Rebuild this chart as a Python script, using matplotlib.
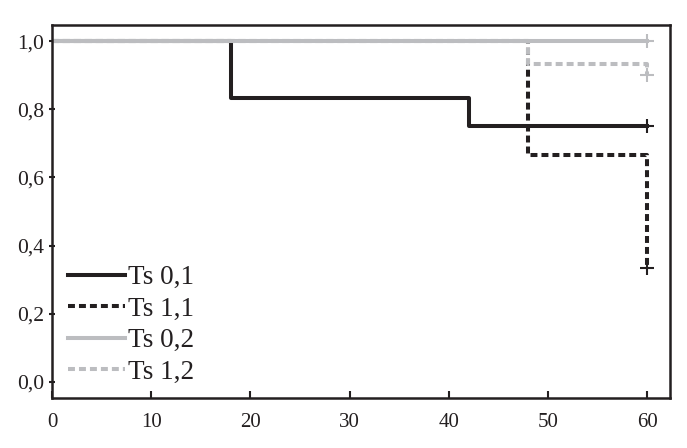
import numpy as np
import matplotlib
matplotlib.use('Agg')
import matplotlib.pyplot as plt

# Kaplan-Meier style survival steps (time, survival)
t_ts01 = [0, 18, 42, 60]
s_ts01 = [1.0, 0.833, 0.75, 0.75]
t_ts11 = [0, 48, 60]
s_ts11 = [1.0, 0.667, 0.333]
t_ts02 = [0, 60]
s_ts02 = [1.0, 1.0]
t_ts12 = [0, 48, 60]
s_ts12 = [1.0, 0.933, 0.90]

# censored points (+ markers)
cens_black_t = [60, 60]
cens_black_s = [0.75, 0.333]
cens_grey_t = [60, 60]
cens_grey_s = [1.0, 0.90]

labels = ['Ts 0,1', 'Ts 1,1', 'Ts 0,2', 'Ts 1,2']
x_ticks = [0, 10, 20, 30, 40, 50, 60]
y_ticks = [0.0, 0.2, 0.4, 0.6, 0.8, 1.0]
y_ticklabels = ['0,0', '0,2', '0,4', '0,6', '0,8', '1,0']

plt.rcParams['font.family'] = ['Liberation Serif', 'DejaVu Serif']
plt.rcParams['lines.scale_dashes'] = False

black = '#231f20'
grey = '#bcbdc0'
lw = 2.9
dash = (0, (5, 2.9))

fig = plt.figure(figsize=(6.87, 4.48), dpi=100)
ax = fig.add_axes([0.0757, 0.1116, 0.975 - 0.0757, 0.944 - 0.1116])

ax.step(t_ts01, s_ts01, where='post', color=black, lw=lw, label=labels[0])
ax.step(t_ts11, s_ts11, where='post', color=black, lw=lw, ls=dash, label=labels[1])
ax.step(t_ts02, s_ts02, where='post', color=grey, lw=lw, label=labels[2])
ax.step(t_ts12, s_ts12, where='post', color=grey, lw=lw, ls=dash, label=labels[3])

ax.plot(cens_black_t, cens_black_s, ls='none', marker='+', ms=9.5, mew=1.5, color=black)
ax.plot(cens_grey_t, cens_grey_s, ls='none', marker='+', ms=9.5, mew=1.5, color=grey)

ax.set_xlim(0, 62.3)
ax.set_ylim(-0.047, 1.047)
ax.set_xticks(x_ticks)
ax.set_yticks(y_ticks)
ax.set_yticklabels(y_ticklabels)

for s in ax.spines.values():
    s.set_linewidth(1.8)
    s.set_color(black)
ax.tick_params(axis='x', direction='in', length=5, width=1.5, labelsize=15, pad=10.5, colors=black)
ax.tick_params(axis='y', direction='inout', length=5, width=1.5, labelsize=15.5, pad=3, colors=black)

leg = ax.legend(loc='upper left', bbox_to_anchor=(0.026, 0.356), frameon=False,
                fontsize=19.5, handlelength=2.1, handletextpad=0.1,
                labelspacing=0.24, borderpad=0, borderaxespad=0)
for t in leg.get_texts():
    t.set_color(black)

fig.savefig('out.png', dpi=100)
